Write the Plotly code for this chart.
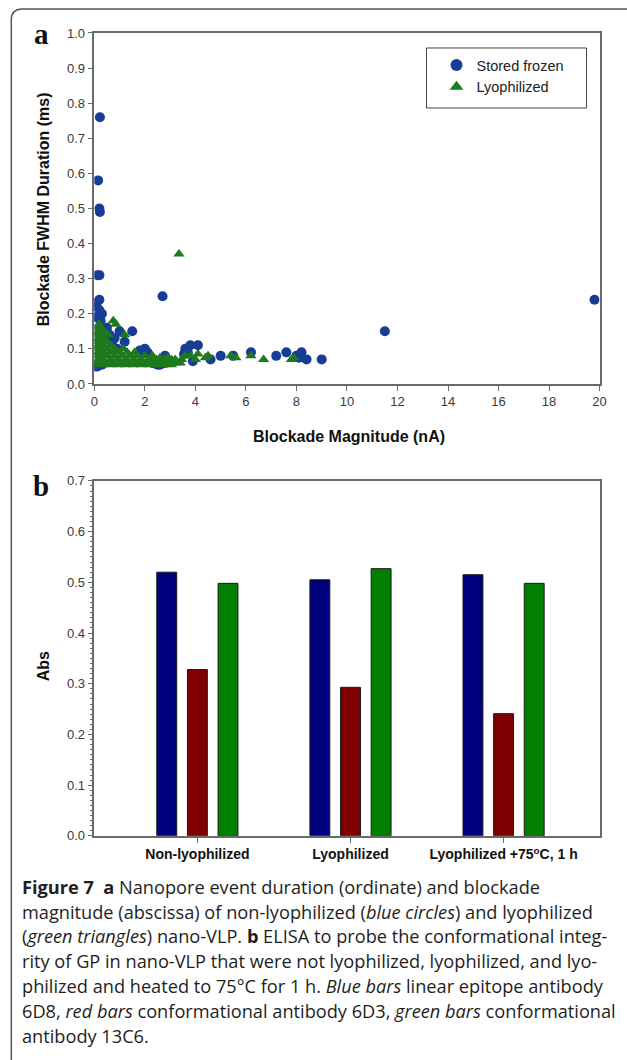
import plotly.graph_objects as go

W, H = 627, 1060

# ---------------- Panel a data ----------------
frozen_x = [0.22, 0.15, 0.20, 0.22, 0.12, 0.20, 2.70,
            0.05, 0.20, 0.10, 0.30, 0.02, 0.15, 0.20, 0.25,
            0.40, 0.50, 0.60, 0.80, 1.00, 1.50, 1.20, 0.70, 0.45, 0.90,
            0.05, 0.12, 0.30,
            2.00, 2.10, 1.80, 2.30, 2.50, 2.60, 2.80, 2.80,
            3.60, 3.80, 4.10, 3.70, 3.55, 3.90, 4.60, 5.00, 5.50, 6.20,
            7.20, 7.60, 8.00, 8.20, 8.10, 8.40, 9.00, 11.50, 19.80]
frozen_y = [0.76, 0.58, 0.50, 0.49, 0.31, 0.31, 0.25,
            0.23, 0.24, 0.22, 0.20, 0.19, 0.19, 0.21, 0.18,
            0.15, 0.16, 0.14, 0.13, 0.15, 0.15, 0.12, 0.12, 0.13, 0.10,
            0.05, 0.05, 0.055,
            0.10, 0.09, 0.095, 0.06, 0.055, 0.055, 0.08, 0.06,
            0.10, 0.11, 0.11, 0.09, 0.085, 0.065, 0.07, 0.08, 0.08, 0.09,
            0.08, 0.09, 0.08, 0.09, 0.075, 0.07, 0.07, 0.15, 0.24]

lyo_x = [0.05, 0.05, 0.05, 0.05, 0.05, 0.08,
         0.15, 0.15, 0.15, 0.15, 0.15, 0.15, 0.18,
         0.25, 0.25, 0.25, 0.25, 0.25, 0.28,
         0.35, 0.35, 0.35, 0.35, 0.35, 0.38,
         0.50, 0.50, 0.50, 0.50, 0.55,
         0.65, 0.65, 0.65, 0.65,
         0.80, 0.80, 0.80, 0.75, 0.85,
         0.95, 0.95, 0.95,
         1.10, 1.10, 1.15, 1.20,
         1.25, 1.25, 1.30,
         1.40, 1.40,
         1.55, 1.55, 1.60,
         1.70, 1.70,
         1.85, 1.85,
         2.00, 2.00,
         2.15, 2.15,
         2.30, 2.30,
         2.45, 2.45,
         2.60, 2.60,
         2.75, 2.75,
         2.90, 2.90,
         3.05, 3.05,
         3.20, 3.20,
         3.40, 3.45,
         3.35,
         3.60, 3.80, 4.00, 4.10, 4.40, 4.50, 5.40, 5.60, 6.20, 6.70, 7.80, 7.90]
lyo_y = [0.06, 0.08, 0.10, 0.12, 0.14, 0.16,
         0.055, 0.07, 0.09, 0.11, 0.13, 0.15, 0.17,
         0.06, 0.08, 0.10, 0.12, 0.14, 0.16,
         0.055, 0.07, 0.09, 0.11, 0.13, 0.15,
         0.06, 0.08, 0.10, 0.12, 0.14,
         0.055, 0.07, 0.09, 0.11,
         0.06, 0.08, 0.10, 0.18, 0.17,
         0.055, 0.07, 0.09,
         0.06, 0.08, 0.10, 0.14,
         0.055, 0.07, 0.09,
         0.06, 0.08,
         0.055, 0.07, 0.09,
         0.06, 0.08,
         0.055, 0.07,
         0.06, 0.08,
         0.055, 0.07,
         0.06, 0.08,
         0.055, 0.07,
         0.06, 0.075,
         0.055, 0.07,
         0.06, 0.075,
         0.055, 0.07,
         0.06, 0.07,
         0.06, 0.07,
         0.37,
         0.08, 0.08, 0.07, 0.085, 0.075, 0.08, 0.08, 0.075, 0.08, 0.07, 0.07, 0.075]

x_ticks_a = [0, 2, 4, 6, 8, 10, 12, 14, 16, 18, 20]
y_ticks_a = [0.0, 0.1, 0.2, 0.3, 0.4, 0.5, 0.6, 0.7, 0.8, 0.9, 1.0]

# ---------------- Panel b data ----------------
categories = ["Non-lyophilized", "Lyophilized", "Lyophilized +75°C, 1 h"]
category_labels = ["<b>Non-lyophilized</b>", "<b>Lyophilized</b>",
                   "<b>Lyophilized +75<sup>o</sup>C, 1 h</b>"]
abs_6D8 = [0.520, 0.505, 0.515]
abs_6D3 = [0.328, 0.293, 0.241]
abs_13C6 = [0.498, 0.527, 0.498]
y_ticks_b = [0.0, 0.1, 0.2, 0.3, 0.4, 0.5, 0.6, 0.7]

caption_lines = [
    "<b>Figure 7</b>  <b>a</b> Nanopore event duration (ordinate) and blockade",
    "magnitude (abscissa) of non-lyophilized (<i>blue circles</i>) and lyophilized",
    "(<i>green triangles</i>) nano-VLP. <b>b</b> ELISA to probe the conformational integ-",
    "rity of GP in nano-VLP that were not lyophilized, lyophilized, and lyo-",
    "philized and heated to 75°C for 1 h. <i>Blue bars</i> linear epitope antibody",
    "6D8, <i>red bars</i> conformational antibody 6D3, <i>green bars</i> conformational",
    "antibody 13C6.",
]

# layout helpers: reference pixel -> paper fraction (with empirical correction
# for the slight scaling seen in the rendered screenshot)
SX, OX = 0.982, 2.7
SY, OY = 0.986, 6.0


def px(x):
    return ((x - OX) / SX) / W


def py(y):
    return 1 - ((y - OY) / SY) / H


AX = "#6a6a6a"
TICKFONT = dict(family="Liberation Sans", size=13, color="#3a3a3a")

fig = go.Figure()

fig.add_trace(go.Scatter(x=frozen_x, y=frozen_y, mode="markers", name="Stored frozen",
                         marker=dict(symbol="circle", size=10, color="#173d96"),
                         xaxis="x", yaxis="y"))
fig.add_trace(go.Scatter(x=lyo_x, y=lyo_y, mode="markers", name="Lyophilized",
                         marker=dict(symbol="triangle-up", size=10, color="#1d7a1d"),
                         xaxis="x", yaxis="y"))

bar_line = dict(color="#1a1a1a", width=1)
fig.add_trace(go.Bar(x=categories, y=abs_6D8, marker=dict(color="#00007f", line=bar_line),
                     xaxis="x2", yaxis="y2", showlegend=False, name="6D8"))
fig.add_trace(go.Bar(x=categories, y=abs_6D3, marker=dict(color="#7f0000", line=bar_line),
                     xaxis="x2", yaxis="y2", showlegend=False, name="6D3"))
fig.add_trace(go.Bar(x=categories, y=abs_13C6, marker=dict(color="#007f00", line=bar_line),
                     xaxis="x2", yaxis="y2", showlegend=False, name="13C6"))

common_axis = dict(showline=True, linecolor=AX, linewidth=1.5, mirror=True,
                   ticks="outside", tickcolor=AX, ticklen=5, tickwidth=1.2,
                   showgrid=False, zeroline=False, tickfont=TICKFONT)

LETTER = dict(family="Liberation Serif", size=29, color="#111")
TITLE = dict(family="Liberation Sans", size=16, color="#111")
annotations = [
    dict(text="<b>a</b>", x=px(40), y=py(33), xref="paper", yref="paper", showarrow=False,
         font=LETTER, xanchor="center", yanchor="middle"),
    dict(text="<b>b</b>", x=px(40), y=py(485), xref="paper", yref="paper", showarrow=False,
         font=LETTER, xanchor="center", yanchor="middle"),
    dict(text="<b>Blockade FWHM Duration (ms)</b>", x=px(43), y=py(208), xref="paper", yref="paper",
         showarrow=False, textangle=-90, font=TITLE, xanchor="center", yanchor="middle"),
    dict(text="<b>Blockade Magnitude (nA)</b>", x=px(348), y=py(436), xref="paper", yref="paper",
         showarrow=False, font=TITLE, xanchor="center", yanchor="middle"),
    dict(text="<b>Abs</b>", x=px(43), y=py(665), xref="paper", yref="paper",
         showarrow=False, textangle=-90, font=TITLE, xanchor="center", yanchor="middle"),
]
for i, line in enumerate(caption_lines):
    annotations.append(dict(text=line, x=px(19), y=py(886 + i * 24.8), xref="paper", yref="paper",
                            showarrow=False, xanchor="left", yanchor="middle",
                            font=dict(family="Open Sans", size=18.2, color="#1e1e1e")))

shapes = [
    # page frame (rounded corner top-left)
    dict(type="path", xref="paper", yref="paper",
         path=f"M {px(10)},{py(1060)} L {px(10)},{py(19)} Q {px(10)},{py(8)} {px(21)},{py(8)} L {px(627)},{py(8)}",
         line=dict(color="#555", width=1.5)),
    # legend box
    dict(type="rect", xref="paper", yref="paper", x0=px(425), x1=px(585), y0=py(107), y1=py(47),
         line=dict(color="#444", width=1), fillcolor="rgba(0,0,0,0)"),
]

fig.update_layout(
    width=W, height=H,
    margin=dict(l=0, r=0, t=0, b=0),
    paper_bgcolor="white", plot_bgcolor="white",
    barmode="group", bargap=0.4, bargroupgap=0.35,
    xaxis=dict(domain=[px(93), px(598)], range=[0, 20], tickvals=x_ticks_a, anchor="y", **common_axis),
    yaxis=dict(domain=[py(383), py(32)], range=[0, 1], tickvals=y_ticks_a, tickformat=".1f",
               anchor="x", **common_axis),
    xaxis2=dict(domain=[px(93), px(598)], range=[-0.673, 2.627], tickvals=categories,
                ticktext=category_labels, anchor="y2", **{**common_axis,
                "tickfont": dict(family="Liberation Sans", size=14, color="#111")}),
    yaxis2=dict(domain=[py(835), py(480)], range=[0, 0.7], tickvals=y_ticks_b, tickformat=".1f",
                anchor="x2", minor=dict(dtick=0.01, ticklen=3, tickcolor=AX, ticks="outside"),
                **common_axis),
    legend=dict(x=px(435), y=py(48), xanchor="left", yanchor="top", bgcolor="rgba(0,0,0,0)",
                borderwidth=0, font=dict(family="Liberation Sans", size=14.5, color="#222"),
                tracegroupgap=0, itemsizing="constant"),
    annotations=annotations,
    shapes=shapes,
)

fig.write_html(
    "out.html",
    config={"displayModeBar": False},
    post_script="document.body.style.margin='0';"
                "document.body.style.overflow='hidden';"
                "document.documentElement.style.overflow='hidden';",
)
